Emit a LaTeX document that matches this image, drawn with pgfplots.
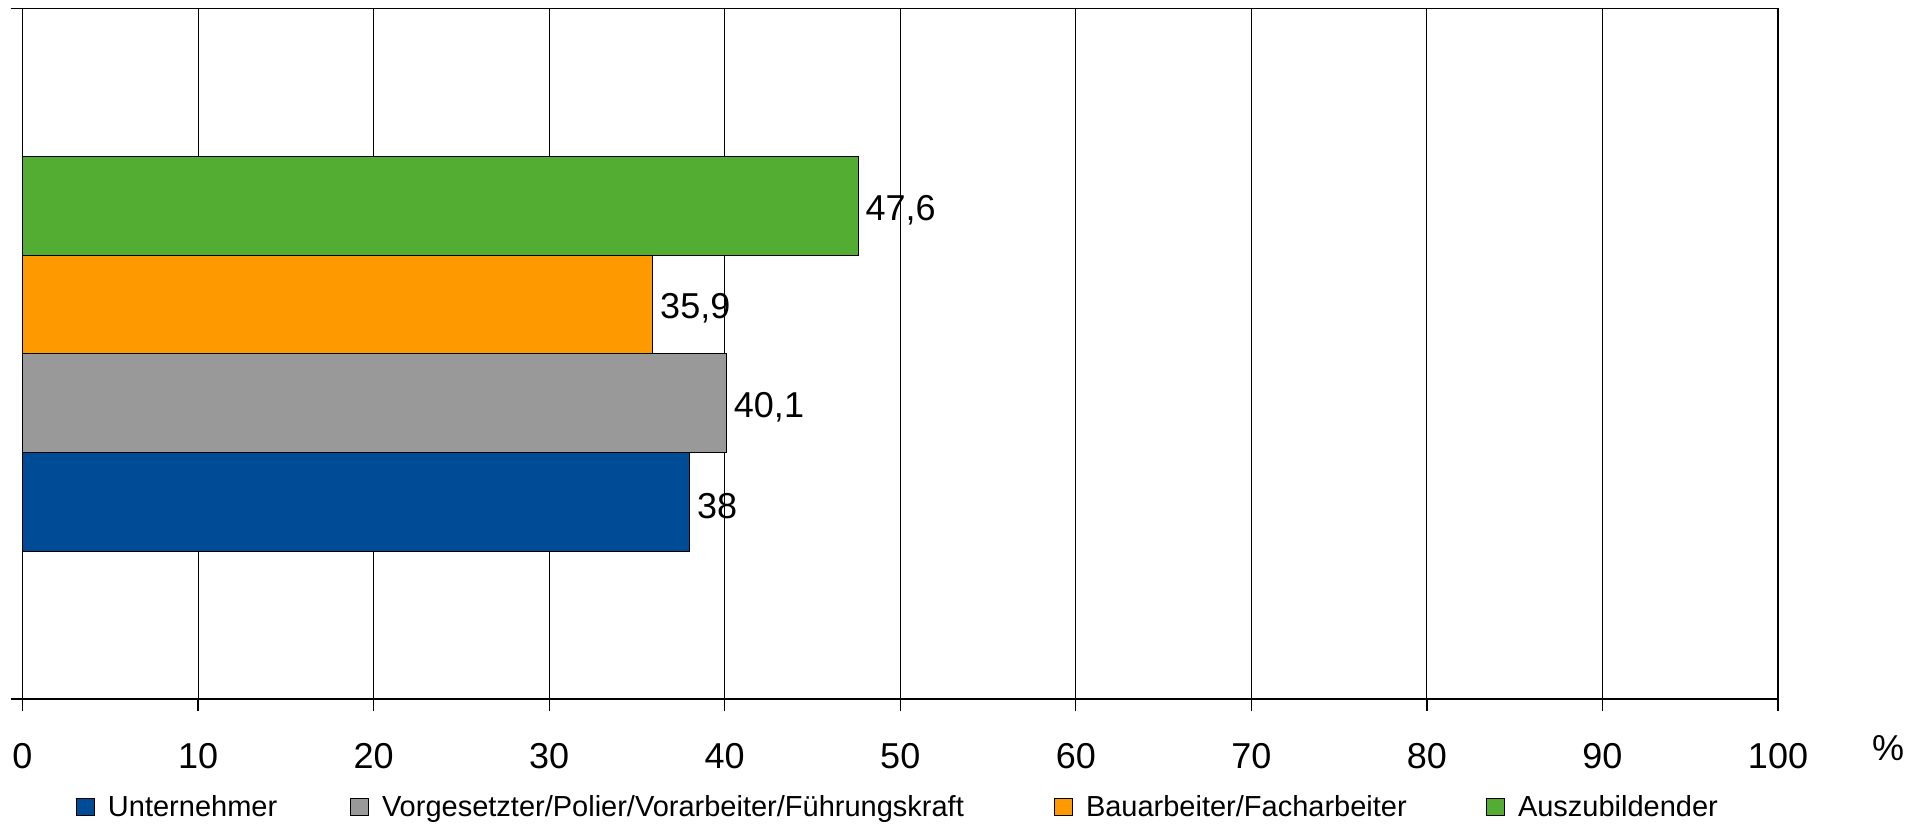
\documentclass[border=0pt]{standalone}
\usepackage{fontspec}
\setmainfont{Liberation Sans}
\usepackage{pgfplots}
\pgfplotsset{compat=1.18}

\definecolor{cblue}{HTML}{004B95}
\definecolor{cgrey}{HTML}{999999}
\definecolor{corange}{HTML}{FF9900}
\definecolor{cgreen}{HTML}{53AD33}

\begin{document}
\begin{tikzpicture}
\begin{axis}[
  at={(0,0)}, anchor=south west,
  scale only axis, width=877.75pt, height=345.25pt,
  xmin=0, xmax=100, xtick distance=10,
  ymin=-3.5, ymax=3.5, ytick={-3.5,3.5}, yticklabels={},
  xtick pos=left, ytick pos=left,
  tick align=outside, major tick length=6pt,
  tick style={black, line width=0.6pt},
  axis line style={black, line width=0.7pt},
  xmajorgrids, grid style={black, line width=0.5pt},
  /pgf/number format/assume math mode=true,
  ticklabel style={font=\fontsize{18}{21}\selectfont},
  xticklabel style={anchor=center, yshift=-22.5pt},
  xlabel={\%},
  xlabel style={at={(rel axis cs:1.0627,0)}, anchor=center, yshift=-24.5pt, font=\fontsize{18}{21}\selectfont},
  xbar, bar width=1, bar shift=0pt,
  nodes near coords={\pgfmathprintnumber[assume math mode=true, fixed, precision=1, use comma]{\pgfplotspointmeta}},
  point meta=x,
  nodes near coords style={font=\fontsize{18}{21}\selectfont, anchor=west, inner xsep=3.5pt, yshift=-2pt, black},
  legend image code/.code={
    \draw[#1, draw=black, line width=0.5pt] (0pt,-4.25pt) rectangle (9pt,4.25pt);
    \path (15.5pt,0pt);
  },
  legend style={at={(0,0)}, anchor=west, xshift=26.75pt, yshift=-54pt,
    draw=none, fill=none, inner sep=0pt, outer sep=0pt,
    legend columns=4, font=\fontsize{14.5}{17}\selectfont,
    nodes={inner xsep=0pt}, column sep=0pt},
  legend cell align=left,
]
\addplot[fill=cblue, draw=black, line width=0.5pt] coordinates {(38,-1.5)};
\addlegendentry{\makebox[121pt][l]{Unternehmer}}
\addplot[fill=cgrey, draw=black, line width=0.5pt] coordinates {(40.1,-0.5)};
\addlegendentry{\makebox[336pt][l]{Vorgesetzter/Polier/Vorarbeiter/Führungskraft}}
\addplot[fill=corange, draw=black, line width=0.5pt] coordinates {(35.9,0.5)};
\addlegendentry{\makebox[200pt][l]{Bauarbeiter/Facharbeiter}}
\addplot[fill=cgreen, draw=black, line width=0.5pt] coordinates {(47.6,1.5)};
\addlegendentry{Auszubildender}
\end{axis}
\pgfresetboundingbox
\path[use as bounding box] (-11.25pt,-62.5pt) rectangle (946.25pt,349.5pt);
\end{tikzpicture}
\end{document}
